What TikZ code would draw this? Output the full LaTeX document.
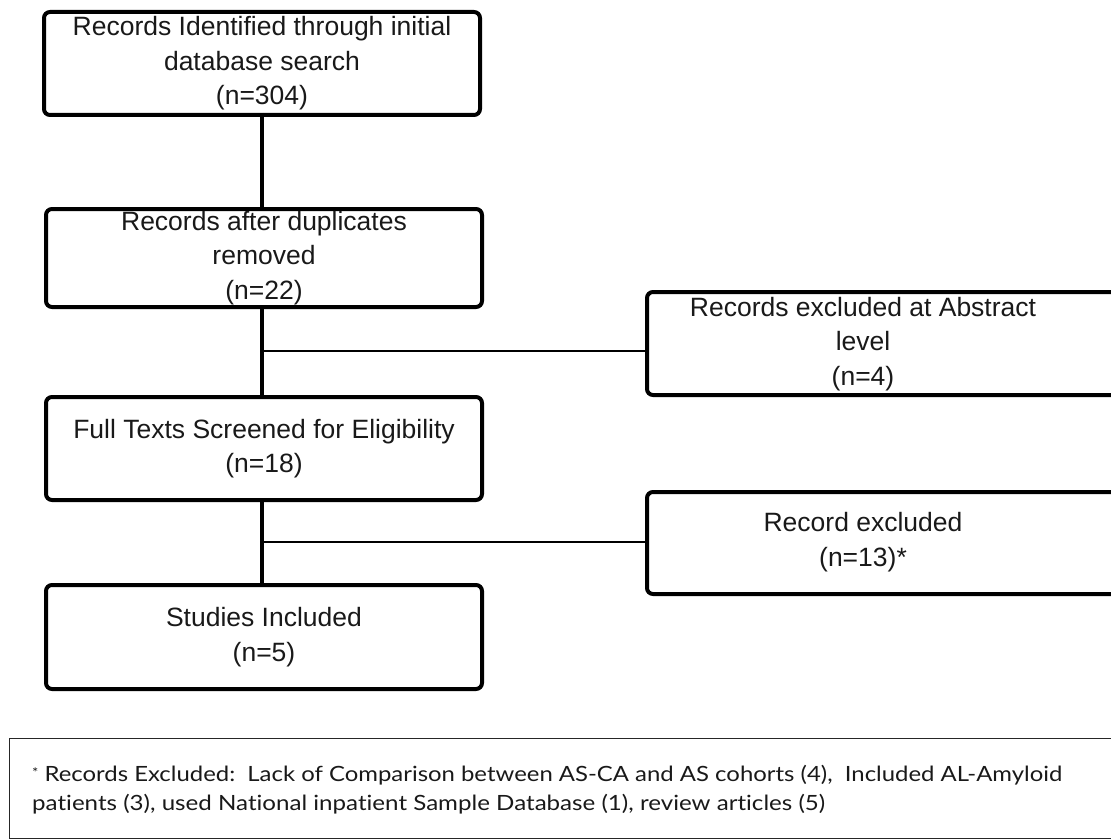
\documentclass[tikz,border=0pt]{standalone}
\usepackage{fontspec}
\setmainfont{Liberation Sans}
\newfontfamily\notefont{Lato}[Ligatures=NoCommon]
\usepackage{graphicx}
\begin{document}
\begin{tikzpicture}[x=1pt,y=-1pt,
  box/.style={draw=black, line width=4pt, rounded corners=6pt, anchor=north west, inner sep=0pt},
  txt/.style={align=center, font=\fontsize{26.5}{34.5}\selectfont, text=black!90},
  trunk/.style={line width=4pt},
  branch/.style={line width=2pt},
  notebox/.style={draw=black!85, line width=1.3pt, anchor=north west, inner sep=0pt},
  notetxt/.style={anchor=base west, inner sep=0pt, font=\notefont\fontsize{21}{24}\selectfont, text=black!90}]
\useasboundingbox (0,0) rectangle (1111,840);
\clip (0,0) rectangle (1111,840);
% left column
\node[box, txt, minimum width=436pt, minimum height=103pt] (b1) at (42,10)
  {Records Identified through initial\\database search\\(n=304)};
\node[box, txt, minimum width=436pt, minimum height=98pt] (b2) at (44,207)
  {Records after duplicates\\removed\\(n=22)};
\node[box, txt, minimum width=436pt, minimum height=103pt] (b3) at (44,395)
  {Full Texts Screened for Eligibility\\(n=18)};
\node[box, txt, minimum width=436pt, minimum height=104pt] (b4) at (44,583)
  {Studies Included\\(n=5)};
% right column
\node[box, minimum width=480pt, minimum height=103pt] (r1) at (645,290) {};
\node[txt] (r1t) at (863,344) {Records excluded at Abstract\\level\\(n=4)};
\node[box, minimum width=480pt, minimum height=102pt] (r2) at (645,490) {};
\node[txt] (r2t) at (863,542) {Record excluded\\(n=13)*};
% connectors
\coordinate (t1) at (262,113);
\draw[trunk] (t1) -- (t1 |- b2.north);
\draw[trunk] (t1 |- b2.south) -- (t1 |- b3.north);
\draw[trunk] (t1 |- b3.south) -- (t1 |- b4.north);
\coordinate (j1) at (262,351);
\draw[branch] (j1) -- (j1 -| r1.west);
\coordinate (j2) at (262,542);
\draw[branch] (j2) -- (j2 -| r2.west);
% footnote
\node[notebox, minimum width=1120pt, minimum height=100pt] (fn) at (9,738) {};
\node[notetxt] (fn1) at (32,781) {\resizebox{1030pt}{\height}{\raisebox{4pt}{\fontsize{13}{13}\selectfont*}\ Records Excluded:\ \ Lack of Comparison between AS-CA and AS cohorts (4),\ \ Included AL-Amyloid}};
\node[notetxt] (fn2) at (32,810) {\resizebox{793pt}{\height}{patients (3), used National inpatient Sample Database (1), review articles (5)}};
\end{tikzpicture}
\end{document}
